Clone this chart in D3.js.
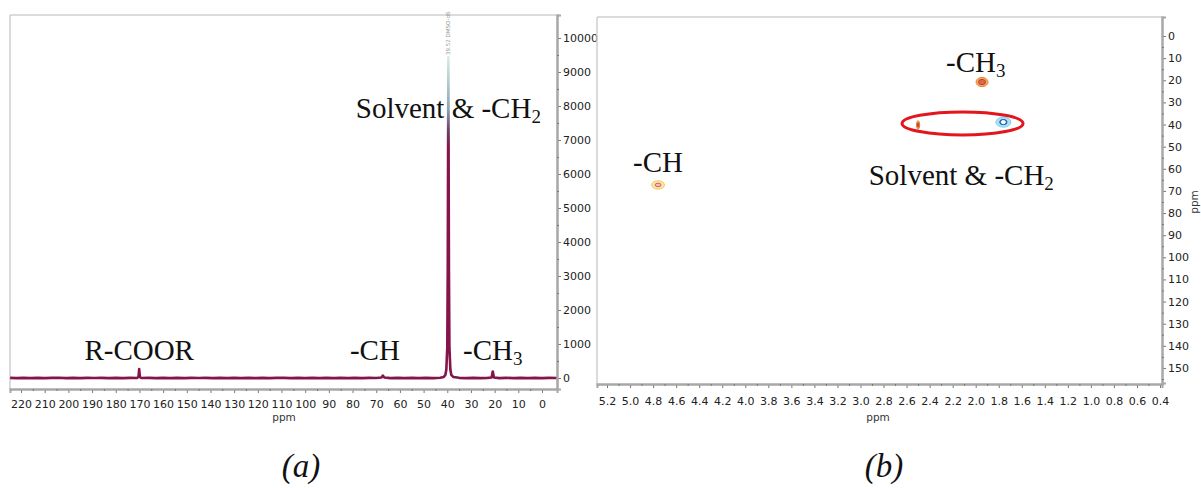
<!DOCTYPE html>
<html>
<head>
<meta charset="utf-8">
<script src="https://cdn.jsdelivr.net/npm/d3@7"></script>
<style>
  body { margin: 0; background: #fff; }
  svg { display: block; }
  .tick text { font-family: "DejaVu Sans", Verdana, sans-serif; font-size: 11px; fill: #222; }
  .ann { font-family: "Liberation Serif", "Times New Roman", serif; font-size: 29px; fill: #111; }
  .cap { font-family: "Liberation Serif", "Times New Roman", serif; font-size: 33px; font-style: italic; fill: #111; }
  .unit { font-family: "DejaVu Sans", Verdana, sans-serif; font-size: 10.5px; fill: #333; }
</style>
</head>
<body>
<svg id="chart" width="1201" height="488"></svg>
<script>
// ---- (a) 13C spectrum trace: chemical shift (ppm) and intensity ----
const specPpm = [224.6, 222, 219, 216, 213, 210, 207, 204, 201, 198, 195, 192, 189,
  186, 183, 180, 177, 174, 171,
  170.4, 170.1, 169.8, 169.2, 166, 163, 160, 157, 154, 151, 148, 145, 142, 139,
  136, 133, 130, 127, 124, 121, 118, 115, 112, 109, 106, 103, 100, 97, 94, 91,
  88, 85, 82, 79, 76, 73, 70, 67.8, 67.2, 66.6, 64, 61, 58, 55, 52, 49, 46, 43,
  41.5, 40.8, 40.4, 40.0, 39.8, 39.55, 39.3, 39.1, 38.7, 38.3, 37.5, 35, 32, 29,
  26, 23, 21.3, 20.8, 20.3, 18, 15, 12, 9, 6, 3, 0, -3, -6.3];
const specInt = [4, -3, 5, -4, 3, -5, 4, 6, -3, 4, -4, 5, -2,
  3, -5, 4, -3, 5, 2,
  30, 260, 30, 0, 4, -3, 5, -4, 3, -5, 4, -2, 5, -3,
  4, -5, 3, -4, 5, -3, 4, -5, 3, 5, -4, 3, -5, 4, -3, 5,
  -4, 3, -5, 4, -3, 5, 2, 15, 70, 15, -3, 4, -5, 3, -4, 5, -3, 6,
  30, 90, 250, 900, 3200, 9440, 3200, 900, 250, 90, 30, 5, -4, 3,
  -5, 4, 15, 190, 15, -4, 5, -3, 4, -5, 3, -4, 5, -2];

const aTicksX = d3.range(220, -1, -10);
const aTicksY = d3.range(0, 10001, 1000);
const aPeakLabels = ["R-COOR", "-CH", "-CH", "Solvent & -CH"];
const aPeakSubs = ["", "", "3", "2"];
const aPeakPos = [170.1, 67.2, 20.8, 39.55];
const solventTag = "39.52 DMSO-d6";

// ---- (b) HSQC cross peaks: 1H shift, 13C shift, contour half-widths ----
const crossH = [4.757, 4.757, 1.945, 1.945, 2.50, 2.50, 1.76, 1.76, 1.76];
const crossC = [67.3, 67.3, 20.8, 20.8, 40.2, 40.2, 38.9, 38.9, 38.9];
const crossRx = [0.056, 0.026, 0.052, 0.030, 0.014, 0.006, 0.065, 0.032, 0.017];
const crossRy = [1.9, 0.8, 2.1, 1.2, 1.9, 1.0, 2.3, 1.2, 0.7];
const crossLevel = [0, 1, 2, 3, 2, 3, 4, 5, 6];
const bTicksX = d3.range(52, 3, -2).map(v => v / 10);
const bTicksY = d3.range(0, 151, 10);
const bLabels = ["-CH", "-CH", "Solvent & -CH"];
const bSubs = ["", "3", "2"];
const bLabelH = [4.757, 2.0, 2.125];
const bLabelC = [61.4, 16.3, 67.3];
const solventBox = { h: 2.114, c: 39.5, rh: 0.525, rc: 5.2 };

const captions = ["(a)", "(b)"];

// contour level styles
const levelFill = ["#fbe7a4", "#f6b9c2", "#f2a862", "#dc6a4a", "#a9e3f3", "#3f74cc", "#ffffff"];
const levelStroke = ["#f0cc5c", "#d65a74", "#e58a3a", "#c2402e", "#7fd0ea", "#2f5fb8", "#ffffff"];

const svg = d3.select("#chart");

// ================= panel (a) =================
const ax = d3.scaleLinear().domain([224.65, -6.33]).range([10, 557]);
const ay = d3.scaleLinear().domain([-323.5, 10676]).range([389, 15]);

const ga = svg.append("g");
// frame
ga.append("line").attr("x1", 10).attr("x2", 557).attr("y1", 15).attr("y2", 15)
  .attr("stroke", "#cfcfcf").attr("stroke-width", 1.5);
ga.append("line").attr("x1", 10).attr("x2", 10).attr("y1", 15).attr("y2", 389)
  .attr("stroke", "#cfcfcf").attr("stroke-width", 1.5);

// gradient along intensity for the trace
const defs = svg.append("defs");
const grad = defs.append("linearGradient").attr("id", "specGrad")
  .attr("gradientUnits", "userSpaceOnUse")
  .attr("x1", 0).attr("x2", 0).attr("y1", ay(0)).attr("y2", ay(9440));
[[0, "#84144a"], [0.72, "#84144a"], [0.77, "#6b4066"], [0.84, "#8ea6b4"], [1, "#d8ede8"]]
  .forEach(([o, c]) => grad.append("stop").attr("offset", o).attr("stop-color", c));

const spec = specPpm.map((p, i) => [p, specInt[i]]);
ga.append("path").datum(spec)
  .attr("d", d3.line().x(d => ax(d[0])).y(d => ay(d[1])))
  .attr("fill", "none").attr("stroke", "url(#specGrad)")
  .attr("stroke-width", 2.6).attr("stroke-linejoin", "round");

// peak tag
ga.append("text")
  .attr("transform", `translate(${ax(39.55) + 2},55) rotate(-90)`)
  .attr("font-family", "DejaVu Sans, sans-serif").attr("font-size", 5.5)
  .attr("fill", "#999").text(solventTag);

// bottom axis
ga.append("g").attr("transform", "translate(0,389)")
  .call(d3.axisBottom(ax).tickValues(aTicksX).tickFormat(d3.format("d")).tickSize(4).tickPadding(7));
ga.append("g").attr("transform", "translate(0,389)")
  .call(d3.axisBottom(ax).tickValues(d3.range(215, 0, -10)).tickFormat("").tickSize(2));
// right axis
ga.append("g").attr("transform", "translate(557,0)")
  .call(d3.axisRight(ay).tickValues(aTicksY).tickFormat(d3.format("d")).tickSize(4).tickPadding(2));
ga.append("g").attr("transform", "translate(557,0)")
  .call(d3.axisRight(ay).tickValues(d3.range(500, 10001, 1000)).tickFormat("").tickSize(2));

ga.append("text").attr("class", "unit").attr("x", 284).attr("y", 421)
  .attr("text-anchor", "middle").text("ppm");

// peak annotations
const aDx = [0, -8, 0, 0];
const aY = [360, 360, 360, 118];
aPeakLabels.forEach((t, i) => {
  const tx = ga.append("text").attr("class", "ann")
    .attr("x", ax(aPeakPos[i]) + aDx[i]).attr("y", aY[i]).attr("text-anchor", "middle");
  tx.append("tspan").text(t);
  if (aPeakSubs[i]) tx.append("tspan").attr("font-size", 19).attr("dy", 5).text(aPeakSubs[i]);
});

// ================= panel (b) =================
const bx = d3.scaleLinear().domain([5.287, 0.383]).range([597, 1162]);
const by = d3.scaleLinear().domain([-8.59, 156.8]).range([17, 383]);

const gb = svg.append("g");
gb.append("line").attr("x1", 597).attr("x2", 1162).attr("y1", 17).attr("y2", 17)
  .attr("stroke", "#cfcfcf").attr("stroke-width", 1.5);
gb.append("line").attr("x1", 597).attr("x2", 597).attr("y1", 17).attr("y2", 384)
  .attr("stroke", "#cfcfcf").attr("stroke-width", 1.5);

// cross peak contours
crossH.forEach((h, i) => {
  const lv = crossLevel[i];
  gb.append("ellipse")
    .attr("cx", bx(h)).attr("cy", by(crossC[i]))
    .attr("rx", Math.abs(bx(h + crossRx[i]) - bx(h)))
    .attr("ry", Math.abs(by(crossC[i] + crossRy[i]) - by(crossC[i])))
    .attr("fill", levelFill[lv]).attr("stroke", levelStroke[lv]).attr("stroke-width", 1);
});

// solvent region outline
gb.append("ellipse")
  .attr("cx", bx(solventBox.h)).attr("cy", by(solventBox.c))
  .attr("rx", Math.abs(bx(solventBox.h + solventBox.rh) - bx(solventBox.h)))
  .attr("ry", Math.abs(by(solventBox.c + solventBox.rc) - by(solventBox.c)))
  .attr("fill", "none").attr("stroke", "#e2161c").attr("stroke-width", 3);

// axes
gb.append("g").attr("transform", "translate(0,384)")
  .call(d3.axisBottom(bx).tickValues(bTicksX).tickFormat(d3.format(".1f")).tickSize(4).tickPadding(9));
gb.append("g").attr("transform", "translate(0,384)")
  .call(d3.axisBottom(bx).tickValues(d3.range(51, 3, -2).map(v => v / 10)).tickFormat("").tickSize(2));
gb.append("g").attr("transform", "translate(1162,0)")
  .call(d3.axisRight(by).tickValues(bTicksY).tickFormat(d3.format("d")).tickSize(4).tickPadding(2));
gb.append("g").attr("transform", "translate(1162,0)")
  .call(d3.axisRight(by).tickValues(d3.range(5, 156, 10)).tickFormat("").tickSize(2));

gb.append("text").attr("class", "unit").attr("x", 878).attr("y", 421)
  .attr("text-anchor", "middle").text("ppm");
gb.append("text").attr("class", "unit")
  .attr("transform", "translate(1198,202) rotate(-90)")
  .attr("text-anchor", "middle").text("ppm");

bLabels.forEach((t, i) => {
  const tx = gb.append("text").attr("class", "ann")
    .attr("x", bx(bLabelH[i])).attr("y", by(bLabelC[i])).attr("text-anchor", "middle");
  tx.append("tspan").text(t);
  if (bSubs[i]) tx.append("tspan").attr("font-size", 19).attr("dy", 5).text(bSubs[i]);
});

// axis styling
svg.selectAll(".domain").attr("stroke", "#a8a8a8").attr("stroke-width", 2);
svg.selectAll(".tick line").attr("stroke", "#777");

// captions
[301, 884].forEach((cx, i) => {
  svg.append("text").attr("class", "cap").attr("x", cx).attr("y", 477)
    .attr("text-anchor", "middle").text(captions[i]);
});
</script>
</body>
</html>
